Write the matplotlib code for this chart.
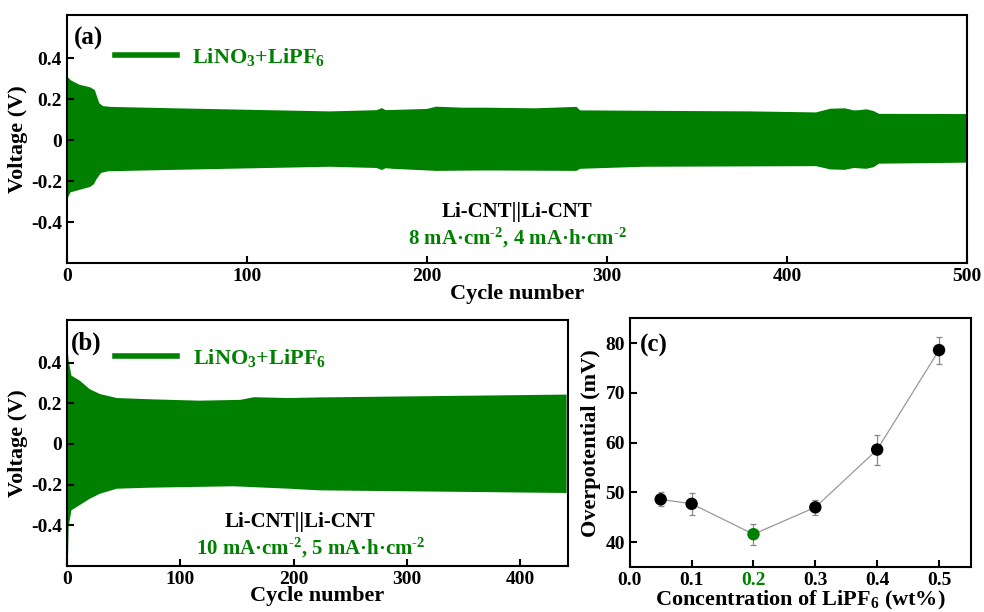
import matplotlib
matplotlib.use('Agg')
import matplotlib.pyplot as plt
from matplotlib.lines import Line2D
import numpy as np

plt.rcParams['font.family'] = ['Liberation Serif', 'DejaVu Serif']
plt.rcParams['font.weight'] = 'bold'
plt.rcParams['axes.labelweight'] = 'bold'
plt.rcParams['mathtext.fontset'] = 'custom'
plt.rcParams['mathtext.rm'] = 'Liberation Serif:bold'
plt.rcParams['mathtext.bf'] = 'Liberation Serif:bold'
plt.rcParams['mathtext.it'] = 'Liberation Serif:bold:italic'
plt.rcParams['axes.unicode_minus'] = False
plt.rcParams['xtick.direction'] = 'in'
plt.rcParams['ytick.direction'] = 'in'
plt.rcParams['axes.linewidth'] = 1.5

GREEN = '#008000'

# (a) voltage envelope, 8 mA/cm2
a_cyc_up = [0, 2.5, 7, 13, 15.5, 18, 20, 24, 60, 100, 146, 172, 175, 177, 181, 200, 205,
            220, 233, 260, 283, 285, 320, 380, 416, 424, 432, 437, 440, 444, 448, 451, 500]
a_v_up = [0.31, 0.29, 0.27, 0.257, 0.244, 0.18, 0.166, 0.162, 0.155, 0.148, 0.14, 0.146, 0.156,
          0.146, 0.147, 0.152, 0.163, 0.158, 0.158, 0.155, 0.162, 0.145, 0.143, 0.14, 0.135,
          0.153, 0.155, 0.145, 0.146, 0.15, 0.142, 0.128, 0.127]
a_cyc_lo = [0, 2, 6, 13, 15, 16.5, 19, 23, 60, 100, 146, 172, 175, 177, 181, 205, 233, 283,
            285, 320, 416, 424, 432, 437, 444, 448, 451, 500]
a_v_lo = [-0.29, -0.255, -0.245, -0.228, -0.215, -0.19, -0.16, -0.152, -0.145, -0.138, -0.13,
          -0.136, -0.146, -0.137, -0.14, -0.15, -0.148, -0.15, -0.14, -0.13, -0.127, -0.143,
          -0.145, -0.136, -0.14, -0.132, -0.115, -0.11]

# (b) voltage envelope, 10 mA/cm2
b_cyc_up = [0, 1.5, 4, 11.5, 20, 29, 44, 73, 117, 153, 165, 196, 223, 441]
b_v_up = [0.5, 0.41, 0.336, 0.311, 0.27, 0.246, 0.226, 0.22, 0.213, 0.217, 0.23, 0.226, 0.229, 0.243]
b_cyc_lo = [0, 0.8, 1.5, 4, 11.5, 20, 29, 44, 73, 147, 196, 223, 441]
b_v_lo = [-0.6, -0.6, -0.408, -0.326, -0.3, -0.27, -0.245, -0.22, -0.215, -0.208, -0.22, -0.228, -0.241]

# (c) overpotential vs LiPF6 concentration
conc = [0.05, 0.1, 0.2, 0.3, 0.4, 0.5]
overpot = [48.6, 47.7, 41.6, 47.0, 58.6, 78.6]
overpot_err = [1.4, 2.2, 2.1, 1.5, 3.0, 2.7]

volt_ticks = [0.4, 0.2, 0, -0.2, -0.4]
volt_labels = ['0.4', '0.2', '0', '-0.2', '-0.4']
conc_ticks = [0.0, 0.1, 0.2, 0.3, 0.4, 0.5]
conc_labels = ['0.0', '0.1', '0.2', '0.3', '0.4', '0.5']

SUP = '$^{\u2010 2}$'

fig = plt.figure(figsize=(9.84, 6.12), dpi=100)
ax_a = fig.add_axes([0.068, 0.570, 0.915, 0.4055])
ax_b = fig.add_axes([0.068, 0.0752, 0.509, 0.402])
ax_c = fig.add_axes([0.640, 0.0735, 0.347, 0.4065])


def voltage_panel(ax, cyc_up, v_up, cyc_lo, v_lo, xmax, xticks, tag, legx, legy,
                  txt_black, txt_green):
    xs = np.concatenate([cyc_up, cyc_lo[::-1]])
    ys = np.concatenate([v_up, v_lo[::-1]])
    ax.fill(xs, ys, color=GREEN, lw=0)
    ax.set_xlim(0, xmax)
    ax.set_ylim(-0.6, 0.61)
    ax.set_yticks(volt_ticks, volt_labels)
    ax.set_xticks(xticks)
    ax.tick_params(labelsize=14, length=5, width=1.5)
    ax.set_xlabel('Cycle number', fontsize=16, labelpad=-1)
    ax.set_ylabel('Voltage (V)', fontsize=16, labelpad=2)
    ax.text(0.008, 0.905, tag, transform=ax.transAxes, fontsize=18, va='center')
    ax.legend(handles=[Line2D([], [], color=GREEN, lw=4)], labels=['LiNO$_3$+LiPF$_6$'],
              loc='center left', bbox_to_anchor=(legx, legy), frameon=False,
              handlelength=2.8, handletextpad=0.7, borderpad=0, borderaxespad=0,
              labelcolor=GREEN, prop={'size': 16, 'weight': 'bold'})
    ax.text(txt_black[0], txt_black[1], 'Li-CNT||Li-CNT', transform=ax.transAxes,
            fontsize=15, ha='center', va='center')
    ax.text(txt_green[0], txt_green[1], txt_green[2], transform=ax.transAxes,
            fontsize=15, ha='center', va='center', color=GREEN)


voltage_panel(ax_a, a_cyc_up, a_v_up, a_cyc_lo, a_v_lo, 500, [0, 100, 200, 300, 400, 500],
              '(a)', 0.053, 0.83, (0.5, 0.206),
              (0.5, 0.1, '8 mA·cm' + SUP + ', 4 mA·h·cm' + SUP))
voltage_panel(ax_b, b_cyc_up, b_v_up, b_cyc_lo, b_v_lo, 442, [0, 100, 200, 300, 400],
              '(b)', 0.096, 0.845, (0.465, 0.18),
              (0.487, 0.075, '10 mA·cm' + SUP + ', 5 mA·h·cm' + SUP))

# (c)
ax_c.plot(conc, overpot, color='#999999', lw=0.9, zorder=1)
ax_c.errorbar(conc, overpot, yerr=overpot_err, fmt='none', ecolor='#888888',
              elinewidth=0.9, capsize=2.5, capthick=0.9, zorder=2)
pt_colors = ['black'] * len(conc)
pt_colors[2] = GREEN
ax_c.scatter(conc, overpot, s=80, c=pt_colors, zorder=3, linewidths=0)
ax_c.set_xlim(0, 0.552)
ax_c.set_ylim(35, 85)
ax_c.set_xticks(conc_ticks, conc_labels)
ax_c.set_yticks([40, 50, 60, 70, 80])
ax_c.tick_params(labelsize=14, length=5, width=1.5)
ax_c.get_xticklabels()[2].set_color(GREEN)
ax_c.set_xlabel('Concentration of LiPF$_6$ (wt%)', fontsize=16, labelpad=0)
ax_c.set_ylabel('Overpotential (mV)', fontsize=16, labelpad=3)
ax_c.text(0.03, 0.89, '(c)', transform=ax_c.transAxes, fontsize=18, va='center')

fig.savefig('out.png', dpi=100)
